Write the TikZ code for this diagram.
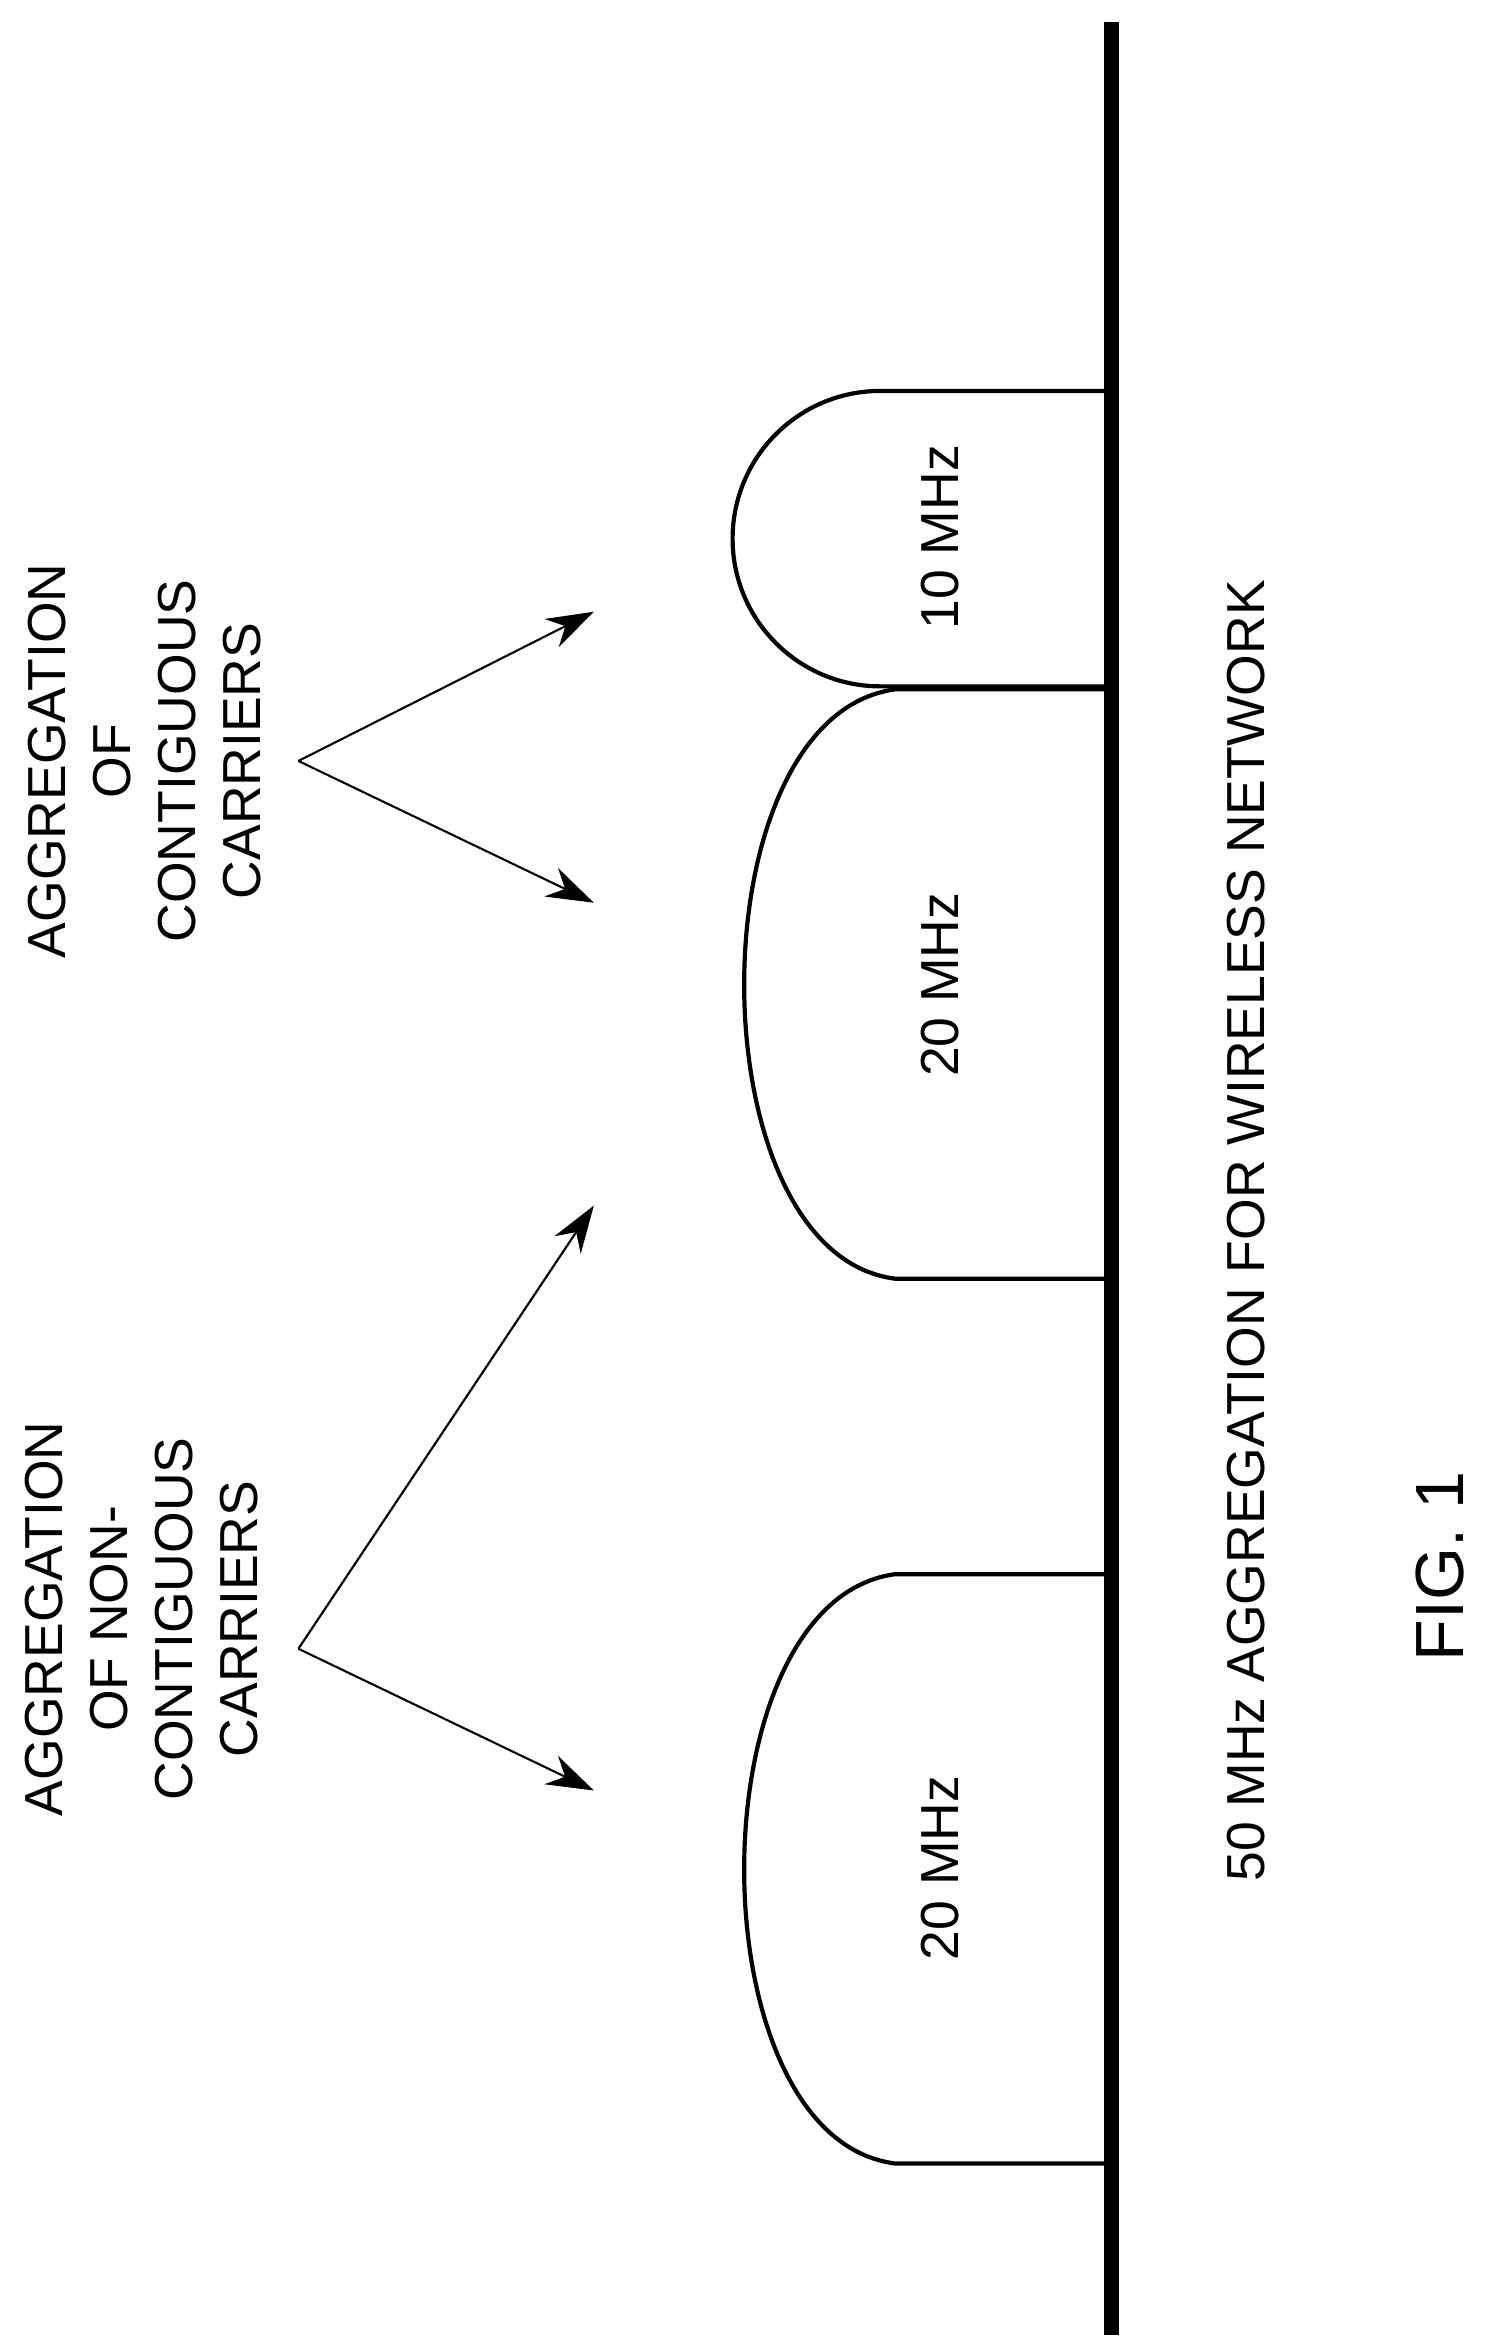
\documentclass[tikz,border=0pt]{standalone}
\usepackage{fontspec}
\setmainfont{Liberation Sans}
\usetikzlibrary{arrows.meta, positioning}

\begin{document}
\begin{tikzpicture}[
        x=0.01cm, y=-0.01cm,
        carrier/.style={draw, thick},
        label/.style={rotate=90, font=\fontsize{10.2}{12.4}\selectfont, align=center},
        pointer/.style={draw, -{Stealth[length=9pt, width=6pt]}}
    ]
        \useasboundingbox (0,0) rectangle (1000,1575);
        % Spectrum axis
        \draw [line width=3pt] (745,15) -- (745,1565);

        % Carriers
        \draw [carrier] (745,262) -- (590,262) arc[start angle=270, end angle=90, radius=99] -- (745,460);
        \draw [carrier] (745,462) -- (600,462) .. controls (465,480) and (465,840) .. (600,857) -- (745,857);
        \draw [carrier] (745,1055) -- (600,1055) .. controls (465,1073) and (465,1433) .. (600,1450) -- (745,1450);

        \node [label] (c10) at (630,360) {10 MHz};
        \node [label] (c20a) at (630,660) {20 MHz};
        \node [label] (c20b) at (630,1252) {20 MHz};

        % Captions
        \node [label] (total) at (835,825) {50 MHz AGGREGATION FOR WIRELESS NETWORK};
        \node [label, font=\fontsize{13}{15}\selectfont] (fig) at (965,1050) {FIG. 1};

        % Groupings
        \node [label] (contig) at (97,510) {AGGREGATION\\OF\\CONTIGUOUS\\CARRIERS};
        \node [label] (noncontig) at (95,1085) {AGGREGATION\\OF NON-\\CONTIGUOUS\\CARRIERS};

        \coordinate (p1) at (200,510);
        \coordinate (p2) at (200,1105);
        \coordinate (t1) at (398,410);
        \coordinate (t2) at (398,605);
        \coordinate (t3) at (398,808);
        \coordinate (t4) at (398,1200);
        \draw [pointer] (p1) -- (t1);
        \draw [pointer] (p1) -- (t2);
        \draw [pointer] (p2) -- (t3);
        \draw [pointer] (p2) -- (t4);
    \end{tikzpicture}
\end{document}
